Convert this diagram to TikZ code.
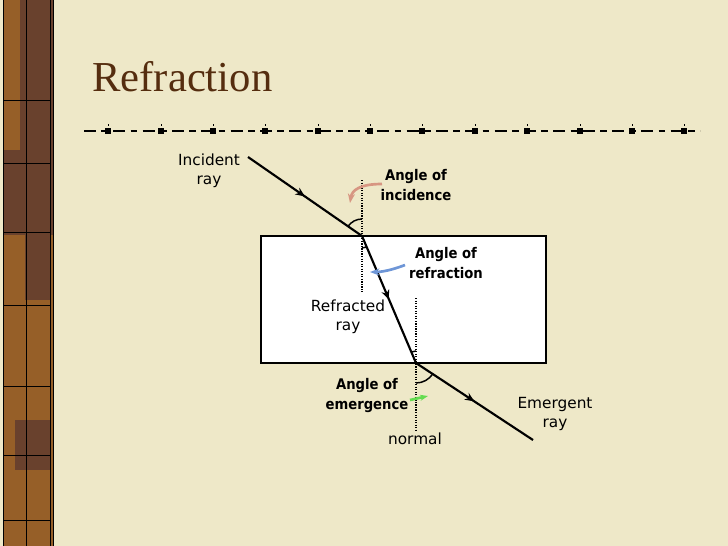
\documentclass[tikz,border=0pt]{standalone}
\usepackage{fontspec}
\setmainfont{Liberation Serif}
\newfontfamily\lab{DejaVu Sans}
\newfontfamily\blab{DejaVu Sans Condensed}
\usetikzlibrary{decorations.markings,arrows.meta}
\definecolor{bg}{RGB}{238,232,200}
\definecolor{strip}{RGB}{150,95,40}
\definecolor{stripdark}{RGB}{105,65,45}
\definecolor{titlec}{RGB}{85,45,15}
\tikzset{ray/.style={line width=1.6pt,postaction={decorate},decoration={markings,mark=at position 0.5 with {\arrow{Stealth[length=7pt,width=6pt]}}}},
normalline/.style={densely dotted,line width=0.9pt},
anglearc/.style={line width=1.1pt},
lbl/.style={font=\lab\fontsize{11.5}{14}\selectfont,align=center,inner sep=0pt},
blbl/.style={font=\blab\bfseries\fontsize{11}{15}\selectfont,align=center,inner sep=0pt}}
\begin{document}
\begin{tikzpicture}[x=0.75pt,y=-0.75pt]
\useasboundingbox (0,0) rectangle (728,546);
\fill[bg] (0,0) rectangle (728,546);
% left strip
\fill[strip] (3,0) rectangle (53,546);
\fill[stripdark] (20,0) rectangle (53,150);
\fill[stripdark] (3,150) rectangle (53,235);
\fill[stripdark] (25,235) rectangle (50,300);
\fill[stripdark] (15,420) rectangle (50,470);
\draw[black,line width=0.6pt] (3,0) -- (3,546) (53,0) -- (53,546) (50,0) -- (50,546) (26,0) -- (26,546);
\foreach \yy in {100,163,232,305,386,455,520} \draw[black,line width=0.6pt] (3,\yy) -- (50,\yy);
% title
\node[anchor=west,inner sep=0pt,text=titlec,font=\fontsize{32}{34}\selectfont] (title) at (92,77) {Refraction};
\draw[line width=1pt,dash pattern=on 9pt off 4pt on 5pt off 4pt] (84,131) -- (700,131);
\foreach \xx in {108,161,213,265,318,370,422,475,527,580,632,684} {\fill (\xx-3,128) rectangle (\xx+3,134); \fill (\xx,124) rectangle (\xx+0.8,126);}
% block
\draw[fill=white,line width=1.4pt] (261,236) rectangle (546,363);
% points
\coordinate (s) at (248,157);
\coordinate (p) at (362,236);
\coordinate (q) at (416,363);
\coordinate (e) at (533,440);
\draw[normalline] (362,180) -- (362,292);
\draw[normalline] (416,298) -- (416,432);
\draw[ray] (s) -- (p);
\draw[ray] (p) -- (q);
\draw[ray] (q) -- (e);
% angle arcs
\draw[anglearc] (p) ++(-145:17) arc[start angle=-145,end angle=-90,radius=17];
\draw[anglearc] (p) ++(90:12) arc[start angle=90,end angle=67,radius=12];
\draw[anglearc] (q) ++(-113:12) arc[start angle=-113,end angle=-90,radius=12];
\draw[anglearc] (q) ++(90:20) arc[start angle=90,end angle=33,radius=20];
% pointer arrows
\draw[-{Stealth[length=7pt]},line width=2pt,color={rgb,255:red,215;green,150;blue,130}] (382,184) .. controls (360,184) and (352,190) .. (350,203);
\draw[-{Stealth[length=7pt]},line width=2pt,color={rgb,255:red,110;green,150;blue,215}] (405,265) .. controls (392,270) and (382,272) .. (370,272);
\draw[-{Stealth[length=6pt]},line width=2pt,color={rgb,255:red,100;green,220;blue,80}] (410,400) -- (428,396);
% labels
\node[lbl] (inc) at (209,171) {Incident\\ray};
\node[lbl] (refr) at (348,317) {Refracted\\ray};
\node[lbl] (em) at (555,414) {Emergent\\ray};
\node[lbl] (norm) at (415,439) {normal};
\node[blbl] (ai) at (416,185) {Angle of\\incidence};
\node[blbl] (ar) at (446,263) {Angle of\\refraction};
\node[blbl] (ae) at (367,396) {Angle of\\emergence};
\end{tikzpicture}
\end{document}
